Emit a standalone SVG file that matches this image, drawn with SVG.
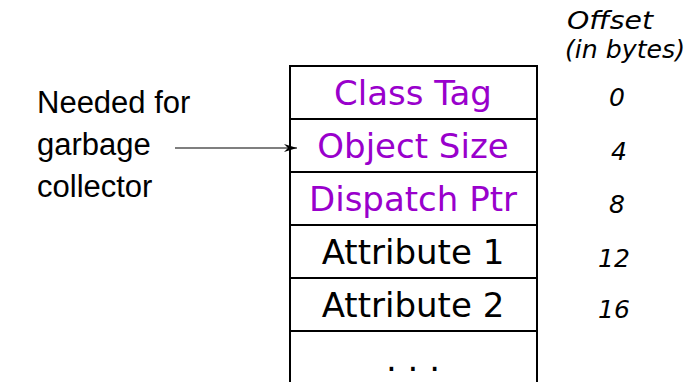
<svg xmlns="http://www.w3.org/2000/svg" width="691" height="382" viewBox="0 0 691 382">
<style>
.cell{fill:#ffffff;stroke:#000000;stroke-width:2}
.hdr{fill:#9900cc;font-family:"DejaVu Sans",sans-serif;font-size:34px;text-anchor:middle}
.att{fill:#000000;font-family:"DejaVu Sans",sans-serif;font-size:34px;text-anchor:middle}
.off{fill:#000000;font-family:"DejaVu Sans",sans-serif;font-style:italic;font-size:25px;text-anchor:middle}
.lbl{fill:#000000;font-family:"Liberation Sans",Arial,sans-serif;font-size:31px}
.conn{stroke:#000000;stroke-width:1.2;fill:none}
</style>
<defs>
<marker id="arr" markerWidth="14" markerHeight="10" refX="13" refY="5" orient="auto" markerUnits="userSpaceOnUse">
<path d="M0,1 L13,5 L0,9 L4,5 Z" fill="#000000"/>
</marker>
</defs>
<rect width="691" height="382" fill="#ffffff"/>
<g id="node-classtag"><rect class="cell" x="290" y="66" width="247" height="53"/><text class="hdr" x="413" y="105">Class Tag</text></g>
<g id="node-objectsize"><rect class="cell" x="290" y="119" width="247" height="53"/><text class="hdr" x="413" y="158">Object Size</text></g>
<g id="node-dispatchptr"><rect class="cell" x="290" y="172" width="247" height="53"/><text class="hdr" x="413" y="211">Dispatch Ptr</text></g>
<g id="node-attr1"><rect class="cell" x="290" y="225" width="247" height="53"/><text class="att" x="413" y="264">Attribute 1</text></g>
<g id="node-attr2"><rect class="cell" x="290" y="278" width="247" height="53"/><text class="att" x="413" y="317">Attribute 2</text></g>
<g id="node-more"><path class="cell" d="M290,383 L290,331 L537,331 L537,383"/><text class="att" x="413" y="371" font-size="28">. . .</text></g>
<g id="offsets">
<text class="off" x="610" y="29" textLength="86" lengthAdjust="spacingAndGlyphs">Offset</text>
<text class="off" x="625" y="58" textLength="120" lengthAdjust="spacingAndGlyphs">(in bytes)</text>
<text class="off" x="617" y="106">0</text>
<text class="off" x="619" y="160">4</text>
<text class="off" x="617" y="213">8</text>
<text class="off" x="614" y="267">12</text>
<text class="off" x="614" y="318">16</text>
</g>
<g id="node-label">
<text class="lbl" x="37" y="113">Needed for</text>
<text class="lbl" x="37" y="155">garbage</text>
<text class="lbl" x="37" y="197">collector</text>
</g>
<g id="connectors">
<line class="conn" x1="175" y1="148" x2="297" y2="148" marker-end="url(#arr)"/>
</g>
</svg>
